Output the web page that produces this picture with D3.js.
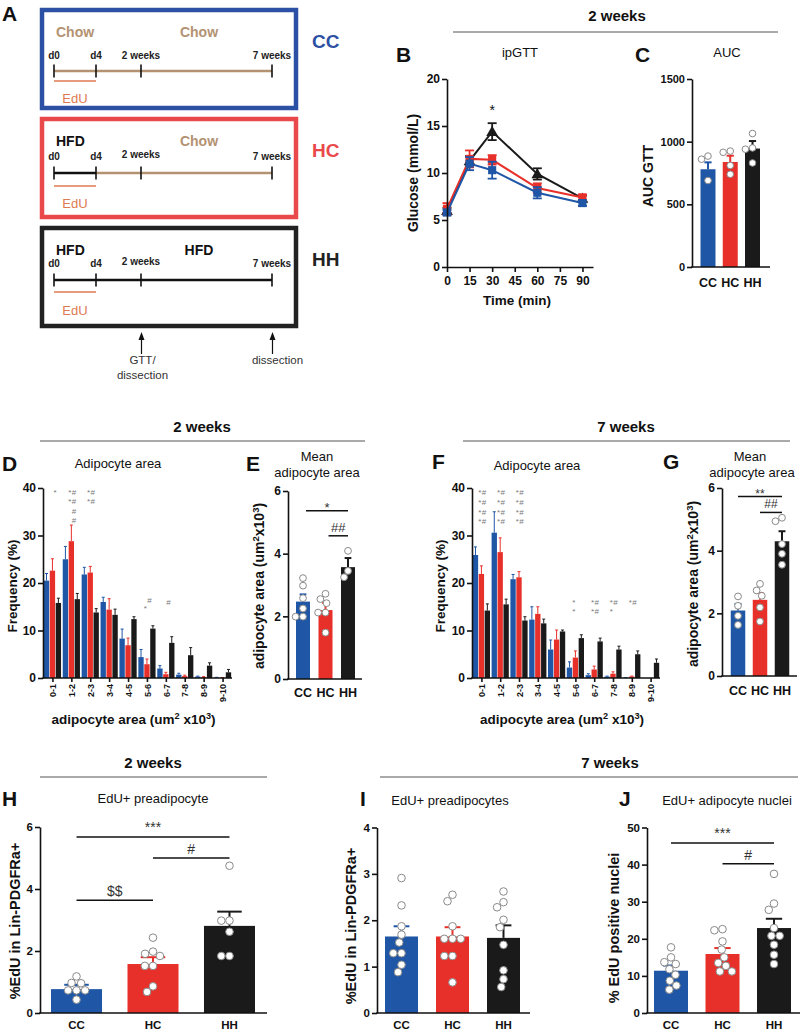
<!DOCTYPE html>
<html><head><meta charset="utf-8">
<script src="https://cdn.jsdelivr.net/npm/d3@7"></script>
<style>body{margin:0;background:#fff}svg{display:block}</style>
</head><body><svg id="c" width="800" height="1035"></svg>
<script>
// ---------------- DATA ----------------
const groups = ["CC","HC","HH"];
const groupColors = ["#1f56a6","#e8302a","#1a1a1a"];
// A: schematic
const timeDays = [0,4,14,49];
const timeLabels = ["d0","d4","2 weeks","7 weeks"];
const schemeNames = ["CC","HC","HH"];
const schemeDiet1 = ["Chow","HFD","HFD"];
const schemeDiet2 = ["Chow","Chow","HFD"];
// B: ipGTT
const gttTimes = [0,15,30,60,90];
const gttCC = [5.8,11.0,10.3,7.9,6.8];
const gttCCErr = [0.3,0.7,0.9,0.6,0.3];
const gttHC = [6.2,11.5,11.4,8.4,7.4];
const gttHCErr = [0.6,0.9,0.5,0.5,0.3];
const gttHH = [6.0,11.3,14.4,9.9,7.3];
const gttHHErr = [0.3,0.5,0.9,0.6,0.3];
const gttYTicks = [0,5,10,15,20];
const gttXTicks = [0,15,30,45,60,75,90];
// C: AUC
const aucMean = [780,838,945];
const aucErr = [55,50,60];
const aucPts = [[885,860,690],[925,915,810,740],[1065,950,940,830]];
const aucTicks = [0,500,1000,1500];
// D/F: histograms
const bins = ["0-1","1-2","2-3","3-4","4-5","5-6","6-7","7-8","8-9","9-10"];
const freqTicks = [0,10,20,30,40];
const h2CC = [20.5,25.0,21.8,16.0,8.3,4.4,2.0,0.7,0.3,0.1];
const h2CCErr = [1.5,2.7,1.5,1.0,2.0,1.6,0.6,0.3,0.1,0.05];
const h2HC = [22.6,28.8,22.2,14.4,6.9,2.9,0.8,0.4,0.2,0.05];
const h2HCErr = [2.5,3.4,1.3,2.3,1.5,1.1,0.4,0.2,0.1,0.05];
const h2HH = [15.8,16.6,13.8,13.3,12.4,10.4,7.4,4.8,2.6,1.2];
const h2HHErr = [1.0,1.2,0.8,1.2,0.5,0.6,1.3,1.6,0.6,0.6];
const h7CC = [25.9,30.6,20.8,12.3,6.0,2.2,0.6,0.3,0.05,0];
const h7CCErr = [1.7,4.4,1.0,2.7,2.0,1.2,0.3,0.1,0.05,0];
const h7HC = [21.9,26.5,21.2,13.5,8.1,4.3,1.8,0.9,0.3,0];
const h7HCErr = [1.7,3.0,1.2,1.5,2.0,1.4,0.7,0.4,0.1,0];
const h7HH = [14.2,15.5,12.1,11.5,9.8,8.4,7.7,6.0,5.0,3.2];
const h7HHErr = [1.4,1.1,0.8,0.9,0.3,0.7,0.7,0.7,0.7,0.8];
// significance marks on histograms: bin, y (frequency), column, symbol
const sigD = [
 ["0-1",38.5,1,"*"],
 ["1-2",38.5,0,"*"],["1-2",38.5,1,"#"],["1-2",36.6,0,"*"],["1-2",36.6,1,"#"],["1-2",34.5,1,"#"],["1-2",32.6,1,"#"],
 ["2-3",38.5,0,"*"],["2-3",38.5,1,"#"],["2-3",36.6,0,"*"],["2-3",36.6,1,"#"],
 ["5-6",15.8,1,"#"],["5-6",14.2,0,"*"],
 ["6-7",15.4,1,"#"]];
const sigF = [
 ["0-1",38.5,0,"*"],["0-1",38.5,1,"#"],["0-1",36.4,0,"*"],["0-1",36.4,1,"#"],["0-1",34.3,0,"*"],["0-1",34.3,1,"#"],["0-1",32.4,0,"*"],["0-1",32.4,1,"#"],
 ["1-2",38.5,0,"*"],["1-2",38.5,1,"#"],["1-2",36.4,0,"*"],["1-2",36.4,1,"#"],["1-2",34.3,0,"*"],["1-2",34.3,1,"#"],["1-2",32.4,0,"*"],["1-2",32.4,1,"#"],
 ["2-3",38.5,0,"*"],["2-3",38.5,1,"#"],["2-3",36.4,0,"*"],["2-3",36.4,1,"#"],["2-3",34.3,0,"*"],["2-3",34.3,1,"#"],["2-3",32.4,0,"*"],["2-3",32.4,1,"#"],
 ["5-6",15.4,0,"*"],["5-6",13.5,0,"*"],
 ["6-7",15.4,0,"*"],["6-7",15.4,1,"#"],["6-7",13.5,0,"*"],["6-7",13.5,1,"#"],
 ["7-8",15.4,0,"*"],["7-8",15.4,1,"#"],["7-8",13.5,0,"*"],
 ["8-9",15.4,0,"*"],["8-9",15.4,1,"#"]];
// E, G: mean adipocyte area
const areaTicks = [0,2,4,6];
const e2Mean = [2.47,2.2,3.57];
const e2Err = [0.23,0.23,0.29];
const e2Pts = [[2.98,3.22,2.58,2.25,1.99,1.99],[2.72,2.42,2.55,2.12,2.12,1.48],[4.09,3.25,3.45]];
const e2Sig = [["CC","HH",5.37,"*"],["HC","HH",4.57,"##"]];
const g7Mean = [2.09,2.43,4.3];
const g7Err = [0.21,0.22,0.32];
const g7Pts = [[2.54,2.24,1.92,1.63],[2.94,2.73,2.56,2.19,1.74],[5.05,4.94,4.21,3.9,3.55]];
const g7Sig = [["CC","HH",5.73,"**"],["HC","HH",5.22,"##"]];
// H: EdU+ preadipocyte 2 weeks
const hTicks = [0,2,4,6];
const hMean = [0.77,1.58,2.81];
const hErr = [0.14,0.22,0.46];
const hPts = [[0.96,1.18,0.97,0.73,0.73,0.73,0.43],[2.43,1.98,1.84,1.91,1.52,1.52,0.86,0.68],[4.75,2.98,2.98,2.62,1.84,1.84]];
const hSig = [["CC","HH",5.68,"***"],["HC","HH",5.0,"#"],["CC","HC",3.64,"$$"]];
// I: EdU+ preadipocytes 7 weeks
const iTicks = [0,1,2,3,4];
const iMean = [1.65,1.65,1.62];
const iErr = [0.22,0.2,0.27];
const iPts = [[2.91,2.32,1.87,1.69,1.52,1.29,1.29,1.04,0.88],[2.55,2.41,1.87,1.6,1.6,1.6,1.23,1.23,0.66],[2.62,2.39,2.28,2.01,1.85,1.47,0.92,0.73,0.56]];
// J: EdU+ adipocyte nuclei
const jTicks = [0,10,20,30,40,50];
const jMean = [11.4,15.9,22.9];
const jErr = [1.4,1.6,2.5];
const jPts = [[17.7,15.0,13.7,13.2,11.8,10.3,8.7,7.4,6.3],[22.6,22.3,19.3,17.1,15.0,13.5,12.7,11.2,11.2],[37.5,29.5,27.8,22.9,20.8,20.8,18.4,15.7,13.2]];
const jSig = [["CC","HH",45.8,"***"],["HC","HH",40.2,"#"]];

// ---------------- HELPERS ----------------
const FONT = '"Liberation Sans", Arial, Helvetica, sans-serif';
const svg = d3.select("#c").attr("font-family", FONT);
const INK = "#111";
const TAN = "#b39272";
const EDU = "#de7a52";

function txt(x, y, s, o = {}) {
  return svg.append("text").attr("x", x).attr("y", y).text(s)
    .attr("font-size", o.size || 12).attr("font-weight", o.bold ? "bold" : "normal")
    .attr("fill", o.fill || INK).attr("text-anchor", o.anchor || "start");
}
// text with superscripts; parts = [[str, isSup], ...]
function richText(sel, parts, size, baseDy) {
  let up = false;
  parts.forEach(([s, sup], k) => {
    const t = sel.append("tspan").text(s);
    let dy = k === 0 && baseDy ? baseDy : 0;
    if (sup && !up) { dy += -size * 0.38; t.attr("font-size", size * 0.68); up = true; }
    else if (sup) { t.attr("font-size", size * 0.68); }
    else if (!sup && up) { dy += size * 0.38; up = false; }
    if (dy) t.attr("dy", dy);
  });
}
function vlabel(cx, cy, size, parts) {
  const t = svg.append("text").attr("transform", `translate(${cx},${cy}) rotate(-90)`)
    .attr("text-anchor", "middle").attr("font-size", size).attr("font-weight", "bold").attr("fill", INK);
  richText(t, parts, size, size * 0.36);
  return t;
}
function styleAxis(g, fs) {
  g.attr("font-family", FONT);
  g.selectAll("path,line").attr("stroke", INK).attr("stroke-width", 1.6);
  g.selectAll("text").attr("font-size", fs).attr("font-weight", "bold").attr("fill", INK);
}
function yAxis(x, y, ticks, fs) {
  const g = svg.append("g").attr("transform", `translate(${x},0)`)
    .call(d3.axisLeft(y).tickValues(ticks).tickFormat(d => String(d)).tickSize(5).tickSizeOuter(0).tickPadding(2));
  styleAxis(g, fs);
  return g;
}
function header(cx, y, x1, x2, ly, s) {
  txt(cx, y, s, {size: 15, bold: true, anchor: "middle", fill: "#111"});
  svg.append("line").attr("x1", x1).attr("x2", x2).attr("y1", ly).attr("y2", ly)
    .attr("stroke", "#555").attr("stroke-width", 1);
}
function letter(x, y, s) { txt(x, y, s, {size: 21, bold: true}); }

// beeswarm offsets
function swarm(values, y, r) {
  const pts = values.map(v => ({v, py: y(v)})).sort((a, b) => a.py - b.py);
  const placed = [], D = 2 * r + 0.6;
  pts.forEach(p => {
    const forb = [];
    placed.forEach(q => { const dy = Math.abs(q.py - p.py); if (dy < D) { const w = Math.sqrt(D * D - dy * dy); forb.push([q.dx - w, q.dx + w]); } });
    const cands = [0]; forb.forEach(f => cands.push(f[0], f[1]));
    cands.sort((a, b) => Math.abs(a) - Math.abs(b) || a - b);
    const ok = cands.find(c => forb.every(f => c <= f[0] + 1e-6 || c >= f[1] - 1e-6));
    p.dx = ok; placed.push(p);
  });
  return pts;
}

function barPanel(cfg) {
  const y = d3.scaleLinear().domain([0, cfg.yMax]).range([cfg.y0, cfg.yTop]);
  const x = d3.scaleBand().domain(groups).range(cfg.barRange).paddingInner(cfg.pi).paddingOuter(0);
  const bw = x.bandwidth();
  svg.append("g").selectAll("rect").data(groups).join("rect")
    .attr("x", g => x(g)).attr("width", bw)
    .attr("y", (g, i) => y(cfg.mean[i])).attr("height", (g, i) => cfg.y0 - y(cfg.mean[i]))
    .attr("fill", (g, i) => groupColors[i]);
  const eg = svg.append("g");
  groups.forEach((g, i) => {
    const cx = x(g) + bw / 2, col = groupColors[i];
    const cw = bw * 0.24;
    eg.append("line").attr("x1", cx).attr("x2", cx).attr("y1", y(cfg.mean[i])).attr("y2", y(cfg.mean[i] + cfg.err[i])).attr("stroke", col).attr("stroke-width", 2);
    eg.append("line").attr("x1", cx - cw).attr("x2", cx + cw).attr("y1", y(cfg.mean[i] + cfg.err[i])).attr("y2", y(cfg.mean[i] + cfg.err[i])).attr("stroke", col).attr("stroke-width", 2);
  });
  groups.forEach((g, i) => {
    const cx = x(g) + bw / 2;
    const pts = swarm(cfg.pts[i], y, cfg.r);
    svg.append("g").selectAll("circle").data(pts).join("circle")
      .attr("cx", d => cx + d.dx).attr("cy", d => d.py).attr("r", cfg.r)
      .attr("fill", "#fff").attr("stroke", "#8a8a8a").attr("stroke-width", 1);
  });
  yAxis(cfg.x0, y, cfg.ticks, cfg.tickFs);
  svg.append("line").attr("x1", cfg.x0 - 0.8).attr("x2", cfg.xEnd).attr("y1", cfg.y0).attr("y2", cfg.y0).attr("stroke", INK).attr("stroke-width", 1.6);
  groups.forEach(g => txt(x(g) + bw / 2, cfg.labY, g, {size: cfg.labFs, bold: true, anchor: "middle"}));
  (cfg.sig || []).forEach(([a, b, v, s]) => {
    const x1 = x(a) + bw / 2 + (cfg.sigPad || 0), x2 = x(b) + bw / 2;
    svg.append("line").attr("x1", x1).attr("x2", x2).attr("y1", y(v)).attr("y2", y(v)).attr("stroke", INK).attr("stroke-width", 1.5);
    const star = s.indexOf("*") >= 0;
    txt((x1 + x2) / 2, y(v) - (star ? cfg.starGap : 4), s, {size: cfg.sigFs, anchor: "middle", fill: "#333"});
  });
  return {x, y};
}

function histPanel(cfg) {
  const y = d3.scaleLinear().domain([0, 40]).range([cfg.y0, cfg.y0 - 190]);
  const xp = d3.scalePoint().domain(bins).range([cfg.x0, cfg.xEnd]).padding(0.5);
  const sub = d3.scaleBand().domain(groups).range([-8.6, 8.6]).paddingInner(0.1);
  const bw = sub.bandwidth();
  groups.forEach((g, gi) => {
    const vals = cfg.series[gi], errs = cfg.errs[gi], col = groupColors[gi];
    svg.append("g").selectAll("rect").data(bins).join("rect")
      .attr("x", b => xp(b) + sub(g)).attr("width", bw)
      .attr("y", (b, i) => y(vals[i])).attr("height", (b, i) => cfg.y0 - y(vals[i]))
      .attr("fill", col);
    const eg = svg.append("g");
    bins.forEach((b, i) => {
      if (errs[i] <= 0) return;
      const cx = xp(b) + sub(g) + bw / 2;
      eg.append("line").attr("x1", cx).attr("x2", cx).attr("y1", y(vals[i])).attr("y2", y(vals[i] + errs[i])).attr("stroke", col).attr("stroke-width", 1);
      eg.append("line").attr("x1", cx - 1.5).attr("x2", cx + 1.5).attr("y1", y(vals[i] + errs[i])).attr("y2", y(vals[i] + errs[i])).attr("stroke", col).attr("stroke-width", 1);
    });
  });
  svg.append("g").selectAll("text").data(cfg.sig).join("text")
    .attr("x", d => xp(d[0]) + (d[2] ? 2.6 : -1.6)).attr("y", d => y(d[1]))
    .attr("text-anchor", "middle").attr("font-size", 8).attr("fill", "#7a7a7a").text(d => d[3]);
  yAxis(cfg.x0, y, freqTicks, 12);
  const gx = svg.append("g").attr("transform", `translate(0,${cfg.y0})`)
    .call(d3.axisBottom(xp).tickSize(4).tickSizeOuter(0));
  styleAxis(gx, 9);
  gx.select("path").attr("d", `M${cfg.x0 - 0.8},0H${cfg.xEnd}`);
  gx.selectAll(".tick text").attr("transform", "rotate(-90)").attr("text-anchor", "end")
    .attr("x", -6).attr("y", 0).attr("dy", "0.35em");
  const xl = txt((cfg.x0 + cfg.xEnd) / 2 - 4, cfg.y0 + 46, "", {size: 13.5, bold: true, anchor: "middle"});
  richText(xl, [["adipocyte area (um", false], ["2", true], [" x10", false], ["3", true], [")", false]], 13.5);
  vlabel(cfg.labX, cfg.y0 - 92, 13.5, [["Frequency (%)", false]]);
  txt(cfg.titleX, cfg.titleY, "Adipocyte area", {size: 13, anchor: "middle"});
}

// ---------------- PANEL A ----------------
letter(2, 21, "A");
const boxColors = ["#2c50a4", "#e9494b", "#222"];
const rowTop = [10, 119, 228];
const rowDietY = [37, 146, 255];
const rowLabY = [59, 160, 267];
const rowLineY = [71, 173, 280];
const rowEduY = [81, 186, 292];
const rowEduTextY = [103, 208, 315];
const tx = d3.scaleLinear().domain(timeDays).range([54, 96, 141, 272]);
schemeNames.forEach((nm, r) => {
  svg.append("rect").attr("x", 42).attr("y", rowTop[r]).attr("width", 254).attr("height", 98)
    .attr("fill", "none").attr("stroke", boxColors[r]).attr("stroke-width", 4.5);
  const c1 = schemeDiet1[r] === "Chow" ? TAN : INK, c2 = schemeDiet2[r] === "Chow" ? TAN : INK;
  txt(56, rowDietY[r], schemeDiet1[r], {size: 14, bold: true, fill: c1});
  txt(199, rowDietY[r], schemeDiet2[r], {size: 14, bold: true, fill: c2, anchor: "middle"});
  svg.append("line").attr("x1", tx(0)).attr("x2", tx(4)).attr("y1", rowLineY[r]).attr("y2", rowLineY[r]).attr("stroke", c1).attr("stroke-width", 2.6);
  svg.append("line").attr("x1", tx(4)).attr("x2", tx(49)).attr("y1", rowLineY[r]).attr("y2", rowLineY[r]).attr("stroke", c2).attr("stroke-width", 2.6);
  timeDays.forEach((d, i) => {
    svg.append("line").attr("x1", tx(d)).attr("x2", tx(d)).attr("y1", rowLineY[r] - 6.5).attr("y2", rowLineY[r] + 6.5).attr("stroke", INK).attr("stroke-width", 1.6);
    txt(tx(d), rowLabY[r] - (i === 2 && r > 0 ? 2 : 0), timeLabels[i], {size: 10, bold: true, anchor: "middle", fill: "#222"});
  });
  svg.append("line").attr("x1", tx(0)).attr("x2", tx(4)).attr("y1", rowEduY[r]).attr("y2", rowEduY[r]).attr("stroke", EDU).attr("stroke-width", 1.6);
  txt(tx(2), rowEduTextY[r], "EdU", {size: 13, fill: EDU, anchor: "middle"});
  txt(312, rowDietY[r] + 11, nm, {size: 19, bold: true, fill: boxColors[r]});
});
[[14, ["GTT/", "dissection"]], [49, ["dissection"]]].forEach(([d, lines]) => {
  const ax = tx(d) + 0.5;
  svg.append("line").attr("x1", ax).attr("x2", ax).attr("y1", 354).attr("y2", 338).attr("stroke", INK).attr("stroke-width", 1.2);
  svg.append("path").attr("d", `M${ax},332 L${ax - 3},340 L${ax + 3},340 Z`).attr("fill", INK);
  lines.forEach((l, i) => txt(ax + (lines.length === 1 ? 5 : 1), 364 + i * 14.5, l, {size: 11.5, anchor: "middle", fill: "#333"}));
});

// ---------------- PANEL B ----------------
header(617, 21, 453, 778, 32, "2 weeks");
letter(396, 62, "B");
txt(520, 57, "ipGTT", {size: 13, anchor: "middle"});
{
  const x = d3.scaleLinear().domain([0, 97]).range([447, 593]);
  const y = d3.scaleLinear().domain([0, 20]).range([267, 79]);
  const series = [[gttHH, gttHHErr, 2], [gttHC, gttHCErr, 1], [gttCC, gttCCErr, 0]];
  series.forEach(([vals, errs, gi]) => {
    const col = groupColors[gi];
    const data = gttTimes.map((t, i) => ({t, v: vals[i], e: errs[i]}));
    svg.append("path").datum(data).attr("d", d3.line().x(d => x(d.t)).y(d => y(d.v)))
      .attr("fill", "none").attr("stroke", col).attr("stroke-width", 2);
    const g = svg.append("g");
    data.forEach(d => {
      g.append("line").attr("x1", x(d.t)).attr("x2", x(d.t)).attr("y1", y(d.v - d.e)).attr("y2", y(d.v + d.e)).attr("stroke", col).attr("stroke-width", 1.8);
      [d.v - d.e, d.v + d.e].forEach(v => g.append("line").attr("x1", x(d.t) - 4.5).attr("x2", x(d.t) + 4.5).attr("y1", y(v)).attr("y2", y(v)).attr("stroke", col).attr("stroke-width", 1.8));
    });
    const sym = d3.symbol().type(gi === 2 ? d3.symbolTriangle : d3.symbolSquare).size(gi === 2 ? 60 : 66);
    g.selectAll("path").data(data).join("path").attr("d", sym)
      .attr("transform", d => `translate(${x(d.t)},${y(d.v) + (gi === 2 ? 1 : 0)})`).attr("fill", col);
  });
  txt(x(30), y(16.2), "*", {size: 14, anchor: "middle"});
  yAxis(447, y, gttYTicks, 12);
  const gx = svg.append("g").attr("transform", "translate(0,267)")
    .call(d3.axisBottom(x).tickValues(gttXTicks).tickFormat(d => String(d)).tickSize(5).tickSizeOuter(0).tickPadding(4));
  styleAxis(gx, 12);
  txt(517, 305, "Time (min)", {size: 13.5, bold: true, anchor: "middle"});
  vlabel(413, 173, 14, [["Glucose (mmol/L)", false]]);
}

// ---------------- PANEL C ----------------
letter(635, 62, "C");
txt(727, 57, "AUC", {size: 13, anchor: "middle"});
barPanel({x0: 692, xEnd: 770, y0: 267, yTop: 79, yMax: 1500, ticks: aucTicks, tickFs: 11,
  barRange: [700.5, 760], pi: 0.326, mean: aucMean, err: aucErr, pts: aucPts, r: 3.3, labY: 287, labFs: 12.5});
vlabel(648, 176, 14, [["AUC GTT", false]]);

// ---------------- ROW 2 ----------------
header(202, 432, 40, 365, 441, "2 weeks");
header(626, 432, 463, 790, 441, "7 weeks");
letter(2, 471, "D");
histPanel({x0: 43, xEnd: 232, y0: 678, series: [h2CC, h2HC, h2HH], errs: [h2CCErr, h2HCErr, h2HHErr],
  sig: sigD, labX: 12, titleX: 118, titleY: 468});
letter(246, 471, "E");
txt(317, 461, "Mean", {size: 13, anchor: "middle"});
txt(317, 477, "adipocyte area", {size: 13, anchor: "middle"});
barPanel({x0: 288, xEnd: 362, y0: 679, yTop: 491, yMax: 6, ticks: areaTicks, tickFs: 12,
  barRange: [296, 355], pi: 0.378, mean: e2Mean, err: e2Err, pts: e2Pts, r: 3.4, labY: 697, labFs: 12.5,
  sig: e2Sig, sigFs: 13, starGap: -1, sigPad: 3});
vlabel(259, 586, 14, [["adipocyte area (um", false], ["2", true], ["x10", false], ["3", true], [")", false]]);

letter(432, 469, "F");
histPanel({x0: 472, xEnd: 660, y0: 678, series: [h7CC, h7HC, h7HH], errs: [h7CCErr, h7HCErr, h7HHErr],
  sig: sigF, labX: 440, titleX: 537, titleY: 470});
letter(663, 469, "G");
txt(750, 461, "Mean", {size: 13, anchor: "middle"});
txt(752, 477, "adipocyte area", {size: 13, anchor: "middle"});
barPanel({x0: 722, xEnd: 797, y0: 676, yTop: 488, yMax: 6, ticks: areaTicks, tickFs: 12,
  barRange: [730.75, 789.25], pi: 0.341, mean: g7Mean, err: g7Err, pts: g7Pts, r: 3.4, labY: 695, labFs: 12.5,
  sig: g7Sig, sigFs: 12, starGap: -2});
vlabel(693, 584, 14, [["adipocyte area (um", false], ["2", true], ["x10", false], ["3", true], [")", false]]);

// ---------------- ROW 3 ----------------
header(153, 768, 40, 267, 777, "2 weeks");
header(610, 768, 380, 798, 777, "7 weeks");
letter(2, 806, "H");
txt(153, 803, "EdU+ preadipocyte", {size: 13, anchor: "middle"});
barPanel({x0: 40, xEnd: 267, y0: 1013, yTop: 827, yMax: 6, ticks: hTicks, tickFs: 11.5,
  barRange: [51, 255], pi: 0.333, mean: hMean, err: hErr, pts: hPts, r: 3.8, labY: 1029, labFs: 11.5,
  sig: hSig, sigFs: 14, starGap: 5});
vlabel(15, 921, 14.5, [["%EdU in Lin-PDGFRa+", false]]);

letter(360, 806, "I");
txt(450, 805, "EdU+ preadipocytes", {size: 13, anchor: "middle"});
barPanel({x0: 377, xEnd: 530, y0: 1013, yTop: 827.5, yMax: 4, ticks: iTicks, tickFs: 11.5,
  barRange: [385, 520], pi: 0.353, mean: iMean, err: iErr, pts: iPts, r: 3.8, labY: 1029, labFs: 11.5});
vlabel(351, 926, 14.5, [["%EdU in Lin-PDGFRa+", false]]);

letter(619, 806, "J");
txt(727, 805, "EdU+ adipocyte nuclei", {size: 13, anchor: "middle"});
barPanel({x0: 647, xEnd: 800, y0: 1013, yTop: 827.5, yMax: 50, ticks: jTicks, tickFs: 11.5,
  barRange: [654, 791], pi: 0.34, mean: jMean, err: jErr, pts: jPts, r: 3.8, labY: 1029, labFs: 11.5,
  sig: jSig, sigFs: 14, starGap: 5});
vlabel(614, 928, 14.5, [["% EdU positive nuclei", false]]);
</script></body></html>
